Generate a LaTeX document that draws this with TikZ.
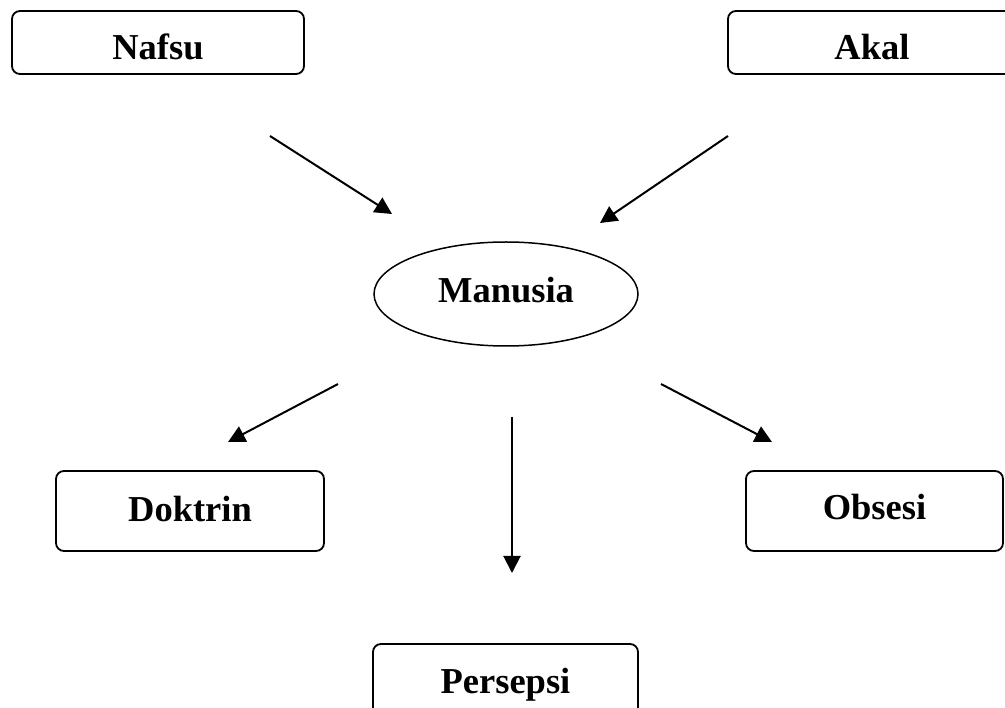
\documentclass[tikz,border=0pt]{standalone}
\usepackage{fontspec}
\setmainfont{Liberation Serif}
\usetikzlibrary{shapes.geometric,arrows.meta}

\begin{document}
\begin{tikzpicture}[x=1pt,y=-1pt,
	kotak/.style={draw, line width=1.8pt, rounded corners=8pt, minimum height=63pt,
		text height=18pt, text depth=0pt, font=\bfseries\fontsize{36.5}{40}\selectfont},
	bulat/.style={draw, ellipse, line width=1.5pt, minimum width=264pt, minimum height=104pt,
		text height=18pt, text depth=0pt, font=\bfseries\fontsize{36.5}{40}\selectfont},
	panah/.style={line width=2pt, -{Triangle[length=17pt,width=17pt]}}]
	\useasboundingbox (0,0) rectangle (1005,708);

	\node[kotak, minimum width=292pt, text height=35pt] (nafsu) at (158,42.5) {Nafsu};
	\node[kotak, minimum width=288pt, text height=35pt] (akal) at (872,42.5) {Akal};
	\node[bulat] (manusia) at (506,294) {Manusia};
	\node[kotak, minimum width=268pt, minimum height=80pt, text height=22pt] (doktrin) at (190,511) {Doktrin};
	\node[kotak, minimum width=257pt, minimum height=80pt] (obsesi) at (874.5,511) {Obsesi};
	\node[kotak, minimum width=265pt, minimum height=80pt] (persepsi) at (505.5,684) {Persepsi};

	% ujung panah
	\coordinate (n1) at (270,136);  \coordinate (m1) at (392,214);
	\coordinate (n2) at (728,136);  \coordinate (m2) at (600,223);
	\coordinate (n3) at (338,384);  \coordinate (m3) at (228,442);
	\coordinate (n4) at (512,417);  \coordinate (m4) at (512,573);
	\coordinate (n5) at (661,384);  \coordinate (m5) at (772,442);
	\foreach \i in {1,...,5} {
		\draw[panah] (n\i) -- (m\i);
	}
\end{tikzpicture}
\end{document}
